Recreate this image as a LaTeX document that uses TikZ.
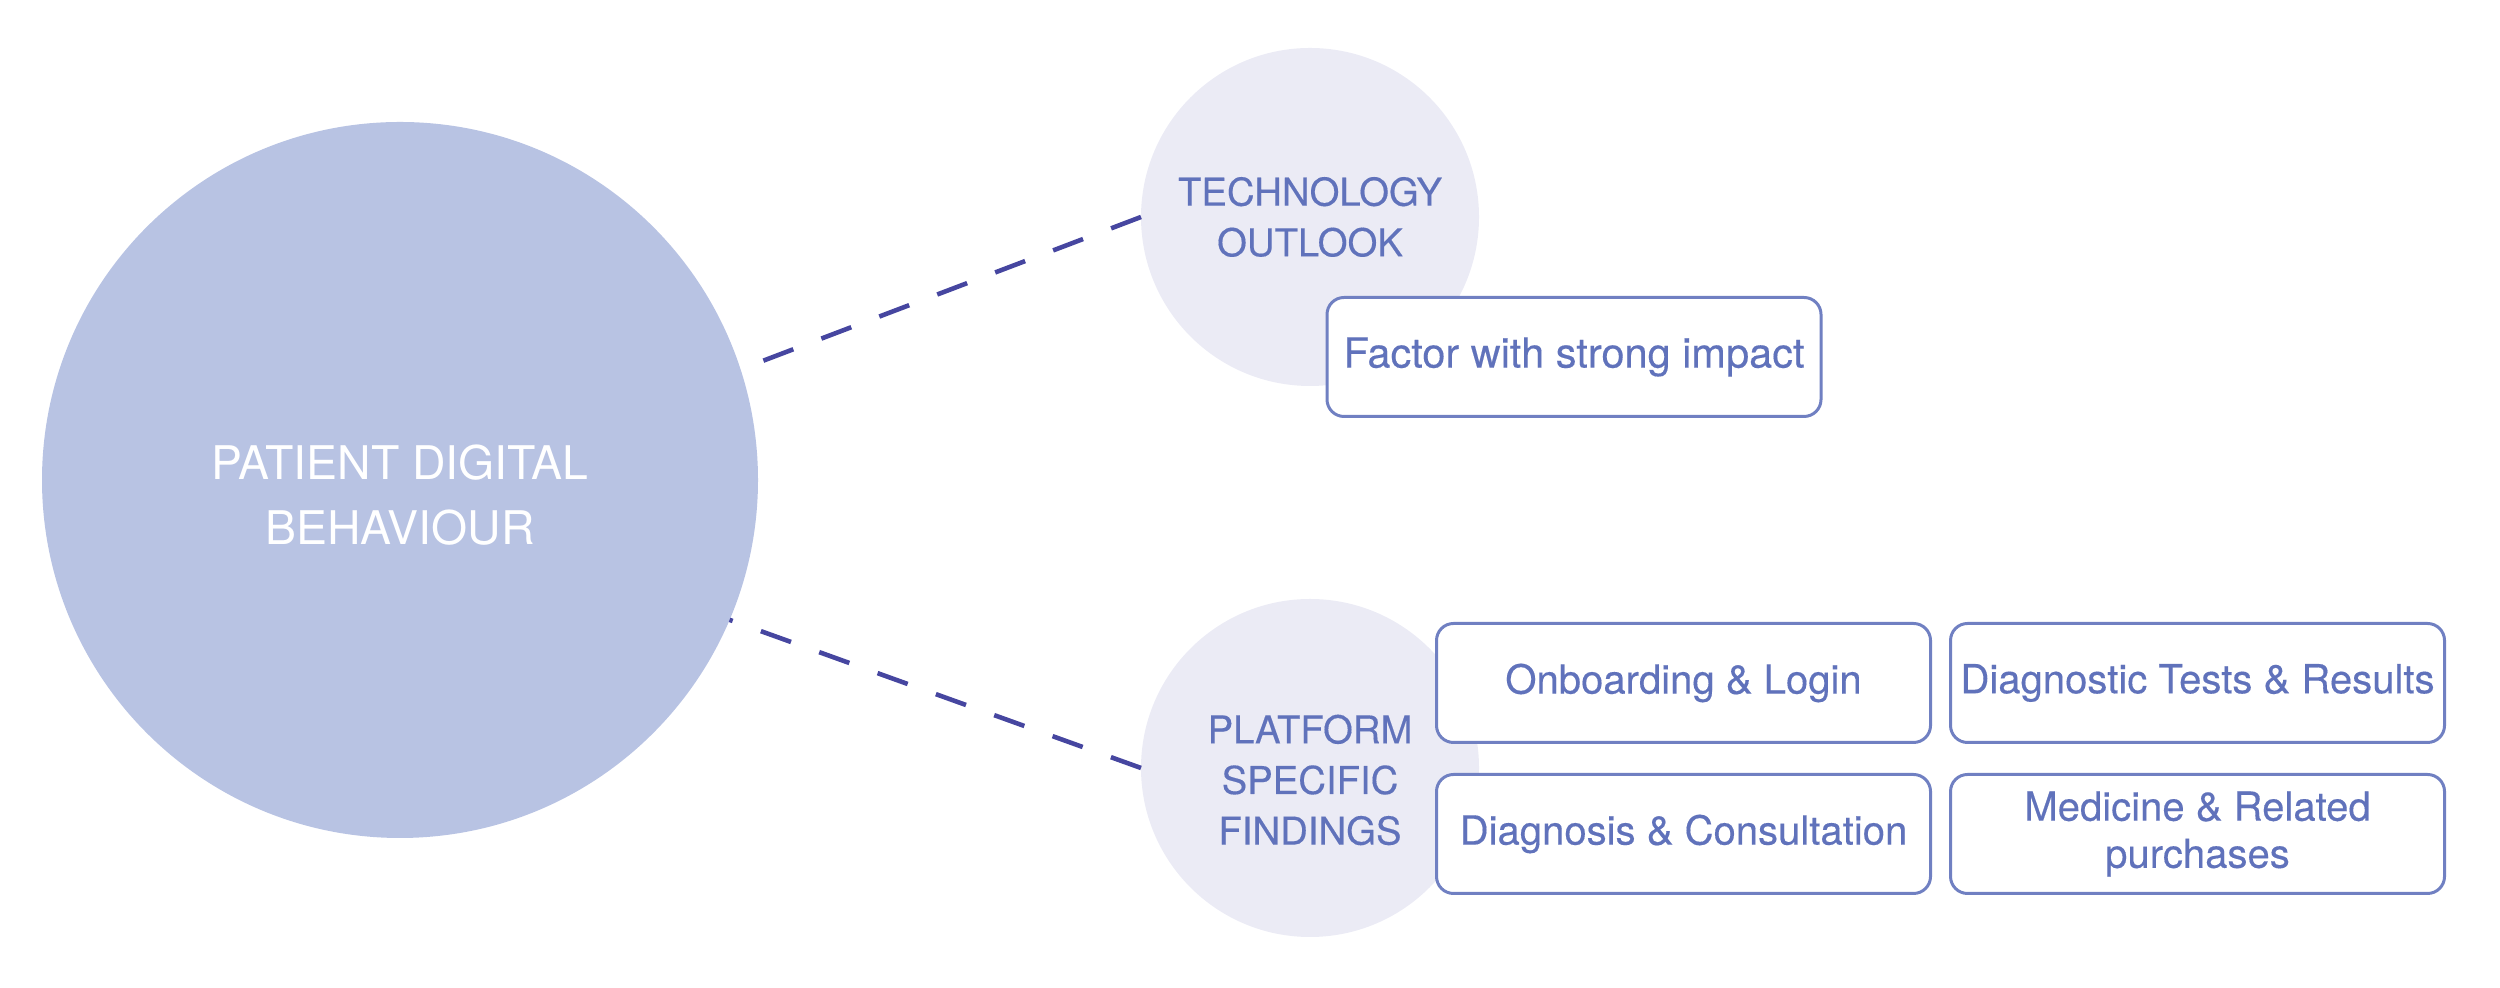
\documentclass[tikz,border=0pt]{standalone}
\usepackage{fontspec}
\setmainfont{TeX Gyre Heros}
\newfontfamily\findfont{TeX Gyre Heros}[FakeBold=0.3]
\usetikzlibrary{positioning}
\definecolor{discblue}{HTML}{B8C3E3}
\definecolor{disclight}{HTML}{EBEBF5}
\definecolor{linkblue}{HTML}{4646A0}
\definecolor{textblue}{HTML}{6072BB}
\definecolor{boxblue}{HTML}{7080C2}

\begin{document}
\begin{tikzpicture}[
        bigdisc/.style={circle, fill=discblue, minimum size=7.16cm, inner sep=0pt, outer sep=0pt},
        smalldisc/.style={circle, fill=disclight, minimum size=3.38cm, inner sep=0pt, outer sep=0pt},
        bigtext/.style={text=white, align=center, font=\fontsize{13.2pt}{18.7pt}\selectfont},
        disctext/.style={text=textblue, align=center, font=\findfont\fontsize{10.9pt}{14.4pt}\selectfont},
        findbox/.style={draw=boxblue, line width=0.85pt, rounded corners=0.17cm, fill=white,
            text=textblue, align=center, minimum width=4.94cm, minimum height=1.19cm,
            inner sep=0pt, outer sep=0pt, font=\findfont\fontsize{11.4pt}{13.4pt}\selectfont},
        link/.style={draw=linkblue, line width=1.3pt, dash pattern=on 0.32cm off 0.30cm}]
        \useasboundingbox (0,0) rectangle (25,9.88);
        \node [bigdisc] (patient) at (4,5.08) {};
        \node [smalldisc] (tech) at (13.1,7.71) {};
        \node [smalldisc] (platform) at (13.1,2.2) {};
        \node [bigtext] (patienttext) at ([yshift=-0.15cm]patient.center) {PATIENT DIGITAL\\BEHAVIOUR};
        \node [disctext] (techtext) at (tech.center) {TECHNOLOGY\\OUTLOOK};
        \node [disctext] (platformtext) at ([yshift=-0.12cm]platform.center) {PLATFORM\\SPECIFIC\\FINDINGS};
        \draw [link, shorten >=0.2cm] (tech.west) -- (patient.18.7);
        \draw [link] (platform.west) -- (patient.-23.6);
        \node [findbox, font=\findfont\fontsize{11.8pt}{14pt}\selectfont] (factor) at (15.74,6.31) {Factor with strong impact};
        \node [findbox] (onboard) at (16.835,3.05) {Onboarding \& Login};
        \node [findbox, right=0.2cm of onboard] (tests) {Diagnostic Tests \& Results};
        \node [findbox, below=0.32cm of onboard] (consult) {Diagnosis \& Consultation};
        \node [findbox, right=0.2cm of consult] (medicine) {Medicine \& Related\\purchases};
\end{tikzpicture}
\end{document}
